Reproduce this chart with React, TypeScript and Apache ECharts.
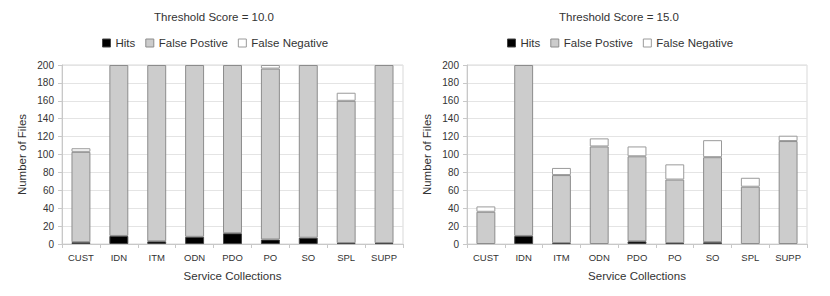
import React, { useEffect, useRef } from "react";
import * as echarts from "echarts";

const categories = ["CUST", "IDN", "ITM", "ODN", "PDO", "PO", "SO", "SPL", "SUPP"];
const seriesNames = ["Hits", "False Postive", "False Negative"];
const yTicks = { min: 0, max: 200, interval: 20 };

const titles = ["Threshold Score = 10.0", "Threshold Score = 15.0"];

// Threshold 10.0
const hits10 = [2, 9, 3, 8, 12, 5, 7, 1, 1];
const falsePos10 = [101, 191, 197, 192, 188, 191, 193, 159, 199];
const falseNeg10 = [4, 0, 0, 0, 0, 4, 0, 9, 0];

// Threshold 15.0
const hits15 = [0, 9, 1, 0, 3, 1, 2, 0, 0];
const falsePos15 = [36, 191, 76, 109, 95, 71, 95, 64, 115];
const falseNeg15 = [6, 0, 8, 9, 11, 17, 19, 10, 6];

const colors = ["#000000", "#cccccc", "#ffffff"];
const borders = ["#444444", "#8c8c8c", "#9a9a9a"];

const FONT = "'Liberation Sans', Arial, sans-serif";
const TEXT = "#333333";

const gridBoxes = [
  { left: 62, width: 341, top: 65, height: 179, titleX: 214, legendX: 102 },
  { left: 467, width: 340, top: 65, height: 179, titleX: 619, legendX: 507 },
];

export default function App() {
  const ref = useRef<HTMLDivElement>(null);
  useEffect(() => {
    if (!ref.current) return;
    const chart = echarts.init(ref.current, undefined, { renderer: "svg" });
    const datasets = [
      [hits10, falsePos10, falseNeg10],
      [hits15, falsePos15, falseNeg15],
    ];
    const series: any[] = [];
    datasets.forEach((set, gi) => {
      set.forEach((arr, si) => {
        series.push({
          type: "bar",
          name: seriesNames[si],
          xAxisIndex: gi,
          yAxisIndex: gi,
          stack: "s" + gi,
          barWidth: "50%",
          data: arr.map((v) => (v === 0 ? "-" : v)),
          itemStyle: { color: colors[si], borderColor: borders[si], borderWidth: 1 },
          emphasis: { disabled: true },
        });
      });
    });
    const option: any = {
      animation: false,
      textStyle: { fontFamily: FONT, color: TEXT },
      title: gridBoxes.map((g, i) => ({
        text: titles[i],
        left: g.titleX,
        top: 11,
        textAlign: "center",
        padding: 0,
        textStyle: { fontFamily: FONT, fontSize: 11.5, fontWeight: "normal", color: TEXT },
      })),
      legend: gridBoxes.map((g) => ({
        left: g.legendX,
        top: 37,
        padding: 0,
        itemWidth: 8,
        itemHeight: 8,
        itemGap: 10,
        data: seriesNames.map((n, si) => ({
          name: n,
          icon: "rect",
          itemStyle: { color: colors[si], borderColor: borders[si], borderWidth: 1 },
        })),
        textStyle: { fontFamily: FONT, fontSize: 11.5, color: TEXT, padding: [0, 0, 0, 0] },
        selectedMode: false,
      })),
      grid: gridBoxes.map((g) => ({
        left: g.left,
        top: g.top,
        width: g.width,
        height: g.height,
        show: true,
        borderColor: "#d9d9d9",
        borderWidth: 1,
        backgroundColor: "transparent",
      })),
      xAxis: gridBoxes.map((_, i) => ({
        type: "category",
        gridIndex: i,
        data: categories,
        name: "Service Collections",
        nameLocation: "middle",
        nameGap: 26,
        nameTextStyle: { fontFamily: FONT, fontSize: 11.5, color: TEXT },
        axisLine: { lineStyle: { color: "#c8c8c8" } },
        axisTick: { show: true, length: 4, lineStyle: { color: "#c8c8c8" } },
        axisLabel: { fontFamily: FONT, fontSize: 9.5, color: TEXT, margin: 8 },
        splitLine: { show: false },
      })),
      yAxis: gridBoxes.map((_, i) => ({
        type: "value",
        gridIndex: i,
        min: yTicks.min,
        max: yTicks.max,
        interval: yTicks.interval,
        name: "Number of Files",
        nameLocation: "middle",
        nameGap: 34,
        nameTextStyle: { fontFamily: FONT, fontSize: 11.5, color: TEXT },
        axisLine: { show: true, lineStyle: { color: "#c8c8c8" } },
        axisTick: { show: true, length: 4, lineStyle: { color: "#c8c8c8" } },
        axisLabel: { fontFamily: FONT, fontSize: 10, color: TEXT, margin: 8 },
        splitLine: { show: true, lineStyle: { color: "#e4e4e4" } },
      })),
      series,
    };
    chart.setOption(option);
    return () => chart.dispose();
  }, []);
  return (
    <div
      ref={ref}
      style={{ position: "absolute", left: 0, top: 0, width: 830, height: 296, background: "#fff" }}
    />
  );
}
